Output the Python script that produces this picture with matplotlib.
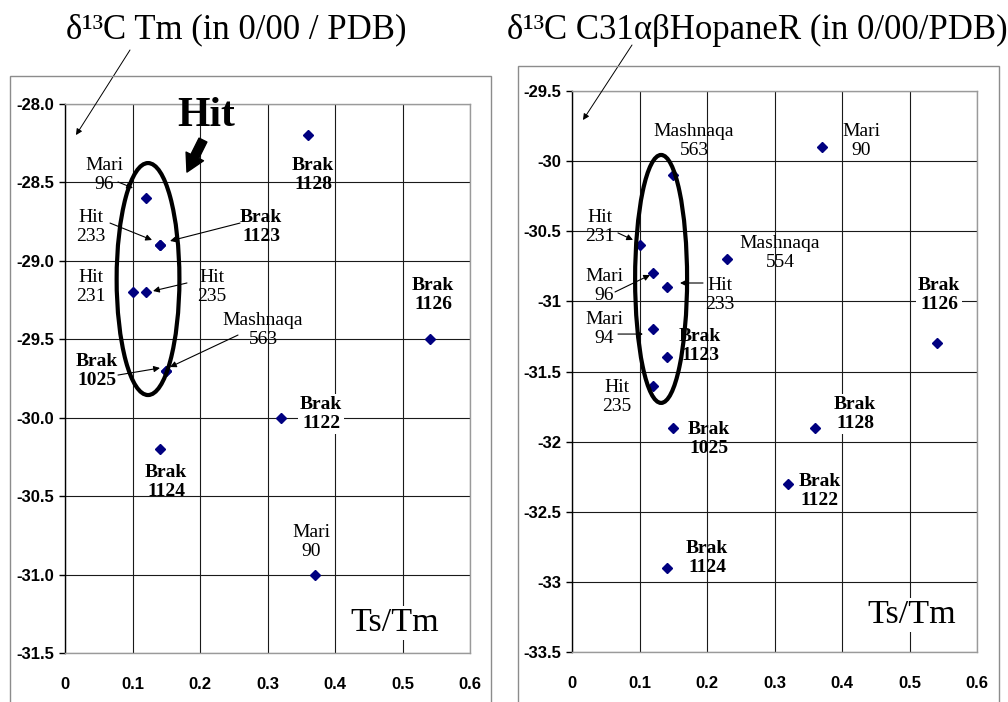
import matplotlib
matplotlib.use("Agg")
import matplotlib.pyplot as plt
from matplotlib import font_manager
from matplotlib.patches import Ellipse, Rectangle

# ---------------- data ----------------
tm_x = [0.12, 0.14, 0.14, 0.10, 0.12, 0.15, 0.15, 0.36, 0.54, 0.32, 0.14, 0.37]
tm_y = [-28.6, -28.9, -28.9, -29.2, -29.2, -29.7, -29.7, -28.2, -29.5, -30.0, -30.2, -31.0]

hop_x = [0.15, 0.37, 0.10, 0.12, 0.14, 0.23, 0.12, 0.14, 0.12, 0.54, 0.15, 0.36, 0.32, 0.14]
hop_y = [-30.1, -29.9, -30.6, -30.8, -30.9, -30.7, -31.2, -31.4, -31.6, -31.3, -31.9, -31.9, -32.3, -32.9]

x_ticks = [0, 0.1, 0.2, 0.3, 0.4, 0.5, 0.6]
x_tick_labels = ["0", "0.1", "0.2", "0.3", "0.4", "0.5", "0.6"]
tm_y_ticks = [-28.0, -28.5, -29.0, -29.5, -30.0, -30.5, -31.0, -31.5]
tm_y_labels = ["-28.0", "-28.5", "-29.0", "-29.5", "-30.0", "-30.5", "-31.0", "-31.5"]
hop_y_ticks = [-29.5, -30, -30.5, -31, -31.5, -32, -32.5, -33, -33.5]
hop_y_labels = ["-29.5", "-30", "-30.5", "-31", "-31.5", "-32", "-32.5", "-33", "-33.5"]

title_tm = "δ¹³C Tm (in 0/00 / PDB)"
title_hop = "δ¹³C C31αβHopaneR (in 0/00/PDB)"

# labels: (text, x, y, bold, white background, arrow tail, arrow head)
tm_labels = [
    ("Mari\n96", 0.058, -28.453, False, False, (0.0785, -28.497), (0.1007, -28.536)),
    ("Hit\n233", 0.0385, -28.784, False, False, (0.0667, -28.759), (0.1289, -28.867)),
    ("Brak\n1123", 0.2904, -28.784, True, False, (0.2593, -28.759), (0.1556, -28.873)),
    ("Hit\n231", 0.0385, -29.167, False, False, None, None),
    ("Hit\n235", 0.2178, -29.167, False, False, (0.1807, -29.141), (0.1304, -29.192)),
    ("Mashnaqa\n563", 0.2933, -29.441, False, False, (0.2563, -29.473), (0.1556, -29.677)),
    ("Brak\n1025", 0.0474, -29.702, True, False, (0.0785, -29.728), (0.1407, -29.683)),
    ("Brak\n1128", 0.3674, -28.453, True, False, None, None),
    ("Brak\n1126", 0.5452, -29.218, True, True, None, None),
    ("Brak\n1122", 0.3793, -29.976, True, True, None, None),
    ("Brak\n1124", 0.1496, -30.410, True, False, None, None),
    ("Mari\n90", 0.3644, -30.792, False, False, None, None),
]

hop_labels = [
    ("Mashnaqa\n563", 0.1807, -29.857, False, False, None, None),
    ("Mari\n90", 0.4281, -29.857, False, False, None, None),
    ("Hit\n231", 0.0415, -30.470, False, False, (0.0681, -30.512), (0.0904, -30.562)),
    ("Mari\n96", 0.0474, -30.890, False, False, (0.0637, -30.933), (0.1156, -30.812)),
    ("Hit\n233", 0.2193, -30.955, False, False, (0.1941, -30.869), (0.1600, -30.869)),
    ("Mashnaqa\n554", 0.3081, -30.655, False, False, None, None),
    ("Mari\n94", 0.0474, -31.197, False, False, (0.0681, -31.233), (0.1052, -31.233)),
    ("Brak\n1123", 0.1896, -31.318, True, False, None, None),
    ("Hit\n235", 0.0667, -31.682, False, False, None, None),
    ("Brak\n1126", 0.5437, -30.955, True, True, None, None),
    ("Brak\n1025", 0.2030, -31.981, True, False, None, None),
    ("Brak\n1128", 0.4193, -31.803, True, True, None, None),
    ("Brak\n1122", 0.3674, -32.352, True, False, None, None),
    ("Brak\n1124", 0.2000, -32.830, True, False, None, None),
]

# ---------------- fonts ----------------
available = {f.name for f in font_manager.fontManager.ttflist}
tick_family = "Liberation Sans"
for cand in ["Liberation Sans Narrow", "DejaVu Sans Condensed", "Liberation Sans"]:
    if cand in available:
        tick_family = cand
        break
serif = ["Liberation Serif", "DejaVu Serif"]

W, H = 1008, 702
fig = plt.figure(figsize=(W / 100, H / 100), dpi=100)
fig.patch.set_facecolor("white")

# outer chart-area frames
fig.patches.append(Rectangle((10 / W, -0.01), 481 / W, (1 - 76 / H) + 0.01, transform=fig.transFigure,
                             fill=False, edgecolor="#8c8c8c", linewidth=1.0))
fig.patches.append(Rectangle((518 / W, -0.01), 481 / W, (1 - 66 / H) + 0.01, transform=fig.transFigure,
                             fill=False, edgecolor="#8c8c8c", linewidth=1.0))

ax1 = fig.add_axes([65 / W, 1 - 653 / H, 405 / W, 549 / H])
ax2 = fig.add_axes([572 / W, 1 - 652 / H, 405 / W, 561 / H])


def style(ax, yticks, ylabels, ylim):
    ax.set_xlim(0, 0.6)
    ax.set_ylim(*ylim)
    ax.set_xticks(x_ticks)
    ax.set_xticklabels(x_tick_labels)
    ax.set_yticks(yticks)
    ax.set_yticklabels(ylabels)
    ax.grid(True, color="#1a1a1a", linewidth=0.8)
    ax.set_axisbelow(True)
    for s in ["top", "right", "bottom"]:
        ax.spines[s].set_color("#9a9a9a")
        ax.spines[s].set_linewidth(1.0)
    ax.spines["left"].set_color("black")
    ax.spines["left"].set_linewidth(1.0)
    ax.tick_params(axis="y", direction="out", length=4, width=1.0, pad=4)
    ax.tick_params(axis="x", length=0, pad=17)
    for lab in ax.get_xticklabels() + ax.get_yticklabels():
        lab.set_fontfamily(tick_family)
        lab.set_fontweight("bold")
        lab.set_fontsize(12)


style(ax1, tm_y_ticks, tm_y_labels, (-31.5, -28.0))
style(ax2, hop_y_ticks, hop_y_labels, (-33.5, -29.5))

ax1.plot(tm_x, tm_y, linestyle="none", marker="D", markersize=5.5, color="#000080", zorder=5)
ax2.plot(hop_x, hop_y, linestyle="none", marker="D", markersize=5.5, color="#000080", zorder=5)


def put_labels(ax, labels):
    for txt, x, y, bold, bg, tail, head in labels:
        kw = dict(ha="center", va="center", fontsize=14, family=serif,
                  fontweight="bold" if bold else "normal", linespacing=1.2, zorder=4)
        if bg:
            kw["bbox"] = dict(facecolor="white", edgecolor="none", pad=1.5)
        ax.text(x, y, txt, **kw)
        if tail is not None:
            ax.annotate("", xy=head, xytext=tail,
                        arrowprops=dict(arrowstyle="-|>", color="black", lw=0.8,
                                        mutation_scale=9, shrinkA=0, shrinkB=0), zorder=6)


put_labels(ax1, tm_labels)
put_labels(ax2, hop_labels)

# Ts/Tm labels
ax1.text(0.4889, -31.309, "Ts/Tm", ha="center", va="center", fontsize=24.5, family=serif,
         bbox=dict(facecolor="white", edgecolor="none", pad=1), zorder=4)
ax2.text(0.5037, -33.236, "Ts/Tm", ha="center", va="center", fontsize=24.5, family=serif,
         bbox=dict(facecolor="white", edgecolor="none", pad=1), zorder=4)

# ellipses
ax1.add_patch(Ellipse((0.123, -29.116), 0.093, 1.479, fill=False, edgecolor="black", linewidth=3, zorder=6))
ax2.add_patch(Ellipse((0.132, -30.84), 0.077, 1.768, fill=False, edgecolor="black", linewidth=3, zorder=6))

# big "Hit" with thick arrow
ax1.text(0.2089, -28.077, "Hit", ha="center", va="center", fontsize=30, fontweight="bold",
         family=serif, zorder=6)
ax1.annotate("", xy=(0.1807, -28.434), xytext=(0.2044, -28.230),
             arrowprops=dict(arrowstyle="simple,head_length=0.9,head_width=1.0,tail_width=0.45",
                             color="black", mutation_scale=14, shrinkA=0, shrinkB=0), zorder=6)

# titles
fig.text(236 / W, 1 - 30 / H, title_tm, ha="center", va="center", fontsize=25, family=serif)
fig.text(757 / W, 1 - 30 / H, title_hop, ha="center", va="center", fontsize=25, family=serif)

# title pointer arrows
ax1.annotate("", xy=(0.0163, -28.198), xytext=(130, H - 50), textcoords="figure pixels",
             arrowprops=dict(arrowstyle="-|>", color="black", lw=0.7, mutation_scale=9,
                             shrinkA=0, shrinkB=0), annotation_clip=False)
ax2.annotate("", xy=(0.0163, -29.707), xytext=(632, H - 45), textcoords="figure pixels",
             arrowprops=dict(arrowstyle="-|>", color="black", lw=0.7, mutation_scale=9,
                             shrinkA=0, shrinkB=0), annotation_clip=False)

fig.savefig("out.png", dpi=100, facecolor="white")
